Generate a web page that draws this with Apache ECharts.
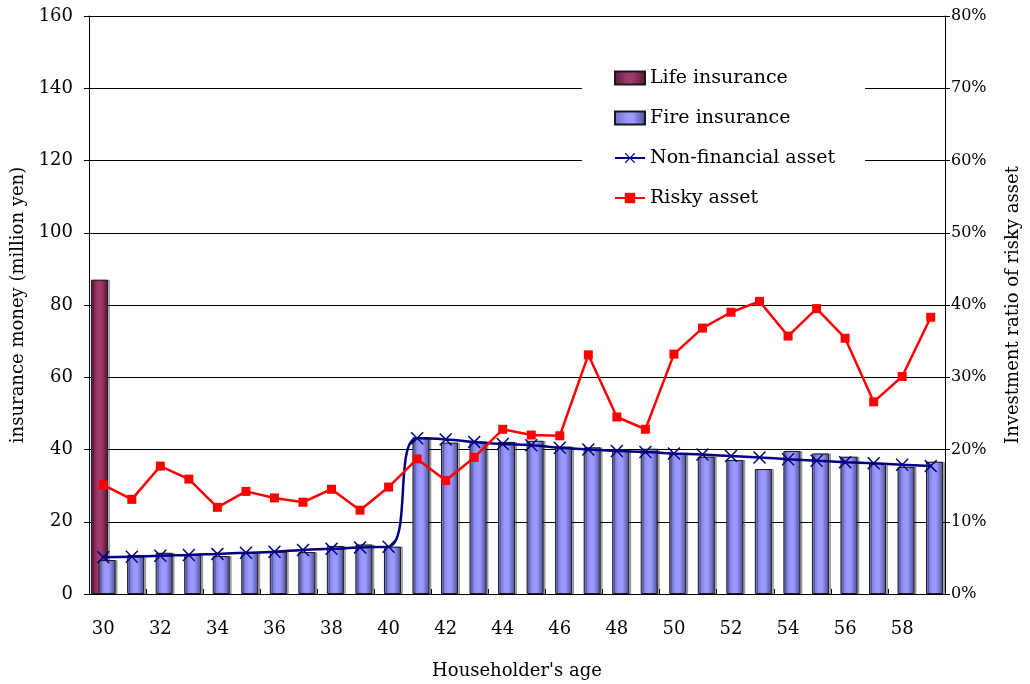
<!DOCTYPE html>
<html>
<head>
<meta charset="utf-8">
<script src="https://cdn.jsdelivr.net/npm/echarts@6/dist/echarts.min.js"></script>
<style>
  html, body { margin: 0; padding: 0; background: #fff; }
  #chart { width: 1030px; height: 684px; }
</style>
</head>
<body>
<div id="chart"></div>
<script>
// Householder's age (x axis categories)
const ages = ['30','31','32','33','34','35','36','37','38','39','40','41','42','43','44',
              '45','46','47','48','49','50','51','52','53','54','55','56','57','58','59'];

// Insurance money (million yen)
const lifeInsurance = [87, null, null, null, null, null, null, null, null, null, null, null, null, null, null,
                       null, null, null, null, null, null, null, null, null, null, null, null, null, null, null];
const fireInsurance = [9.4, 10.8, 11.4, 10.8, 10.5, 11.4, 11.7, 11.6, 13.3, 13.7, 13.1, 43.4, 41.9, 42.2, 42.1,
                       42.4, 40.8, 40.6, 40.0, 40.2, 38.9, 38.0, 37.1, 34.6, 39.6, 38.9, 38.0, 36.2, 35.2, 36.6];
const nonFinancialAsset = [10.2, 10.3, 10.6, 10.8, 11.1, 11.4, 11.7, 12.2, 12.5, 12.9, 13.1, 43.1, 42.8, 42.1, 41.5,
                           41.2, 40.5, 40.0, 39.6, 39.3, 38.9, 38.6, 38.2, 37.8, 37.3, 36.9, 36.5, 36.2, 35.8, 35.4];

// Investment ratio of risky asset (%)
const riskyAsset = [15.1, 13.1, 17.7, 15.9, 12.0, 14.2, 13.3, 12.7, 14.5, 11.6, 14.8, 18.7, 15.7, 18.9, 22.8,
                    22.0, 21.9, 33.1, 24.5, 22.8, 33.2, 36.8, 39.0, 40.5, 35.7, 39.5, 35.4, 26.6, 30.1, 38.3];

const FONT = 'DejaVu Serif';
const crossSymbol = 'path://M0,0.8 L0.8,0 L5,4.2 L9.2,0 L10,0.8 L5.8,5 L10,9.2 L9.2,10 L5,5.8 L0.8,10 L0,9.2 L4.2,5 Z';

function hGrad(edgeL, mid, edgeR) {
  return new echarts.graphic.LinearGradient(0, 0, 1, 0, [
    { offset: 0, color: edgeL },
    { offset: 0.4, color: mid },
    { offset: 0.6, color: mid },
    { offset: 1, color: edgeR }
  ]);
}

const chart = echarts.init(document.getElementById('chart'), null, { renderer: 'canvas' });

chart.setOption({
  animation: false,
  backgroundColor: '#ffffff',
  textStyle: { fontFamily: FONT, color: '#000' },
  grid: { left: 89, right: 85, top: 16, bottom: 90, containLabel: false, outerBoundsMode: 'none' },
  legend: {
    orient: 'vertical',
    left: 582,
    top: 56,
    padding: [12, 30, 12, 32],
    itemGap: 20,
    itemWidth: 30,
    itemHeight: 13,
    backgroundColor: '#ffffff',
    textStyle: { fontFamily: FONT, fontSize: 19, color: '#000', lineHeight: 20 },
    data: [
      { name: 'Life insurance', icon: 'rect' },
      { name: 'Fire insurance', icon: 'rect' },
      'Non-financial asset',
      'Risky asset'
    ]
  },
  xAxis: {
    type: 'category',
    data: ages,
    boundaryGap: true,
    name: "Householder's age",
    nameLocation: 'middle',
    nameGap: 68,
    nameTextStyle: { fontFamily: FONT, fontSize: 18, color: '#000' },
    axisLine: { lineStyle: { color: '#000', width: 1 } },
    axisTick: { show: true, inside: true, length: 5, lineStyle: { color: '#000' } },
    axisLabel: { interval: 1, margin: 26, fontFamily: FONT, fontSize: 18, color: '#000' },
    splitLine: { show: false }
  },
  yAxis: [
    {
      type: 'value',
      min: 0, max: 160, interval: 20,
      name: 'insurance money (million yen)',
      nameLocation: 'middle',
      nameGap: 61,
      nameTextStyle: { fontFamily: FONT, fontSize: 18, color: '#000' },
      axisLine: { show: true, lineStyle: { color: '#000', width: 1 } },
      axisTick: { show: true, length: 5, lineStyle: { color: '#000' } },
      axisLabel: { margin: 16, fontFamily: FONT, fontSize: 18, color: '#000' },
      splitLine: { show: true, lineStyle: { color: '#000', width: 1 } }
    },
    {
      type: 'value',
      min: 0, max: 80, interval: 10,
      position: 'right',
      name: 'Investment ratio of risky asset',
      nameLocation: 'middle',
      nameGap: 59,
      nameRotate: 90,
      nameTextStyle: { fontFamily: FONT, fontSize: 18, color: '#000' },
      axisLine: { show: true, lineStyle: { color: '#000', width: 1 } },
      axisTick: { show: true, length: 5, lineStyle: { color: '#000' } },
      axisLabel: { margin: 6, formatter: '{value}%', fontFamily: FONT, fontSize: 16, color: '#000' },
      splitLine: { show: false }
    }
  ],
  series: [
    {
      name: 'Life insurance',
      type: 'bar',
      yAxisIndex: 0,
      data: lifeInsurance,
      barWidth: 17,
      barGap: '-55%',
      itemStyle: {
        color: hGrad('#5e1a3e', '#a03a6c', '#541636'),
        borderColor: '#1a1a1a',
        borderWidth: 1,
        shadowColor: 'rgba(0,0,0,0.3)',
        shadowOffsetX: 2,
        shadowOffsetY: 0,
        shadowBlur: 0
      },
      emphasis: { disabled: true }
    },
    {
      name: 'Fire insurance',
      type: 'bar',
      yAxisIndex: 0,
      data: fireInsurance,
      barWidth: 17,
      itemStyle: {
        color: hGrad('#6a6ac0', '#9999ff', '#4c4c90'),
        borderColor: '#1a1a1a',
        borderWidth: 1,
        shadowColor: 'rgba(0,0,0,0.3)',
        shadowOffsetX: 2,
        shadowOffsetY: 0,
        shadowBlur: 0
      },
      emphasis: { disabled: true }
    },
    {
      name: 'Non-financial asset',
      type: 'line',
      yAxisIndex: 0,
      data: nonFinancialAsset,
      smooth: 0.5,
      symbol: crossSymbol,
      symbolSize: 13,
      lineStyle: { color: '#000080', width: 2.5 },
      itemStyle: { color: '#000080' },
      emphasis: { disabled: true }
    },
    {
      name: 'Risky asset',
      type: 'line',
      yAxisIndex: 1,
      data: riskyAsset,
      symbol: 'rect',
      symbolSize: 9,
      lineStyle: { color: '#ff0000', width: 2.5 },
      itemStyle: { color: '#ff0000' },
      emphasis: { disabled: true }
    }
  ]
});
</script>
</body>
</html>
